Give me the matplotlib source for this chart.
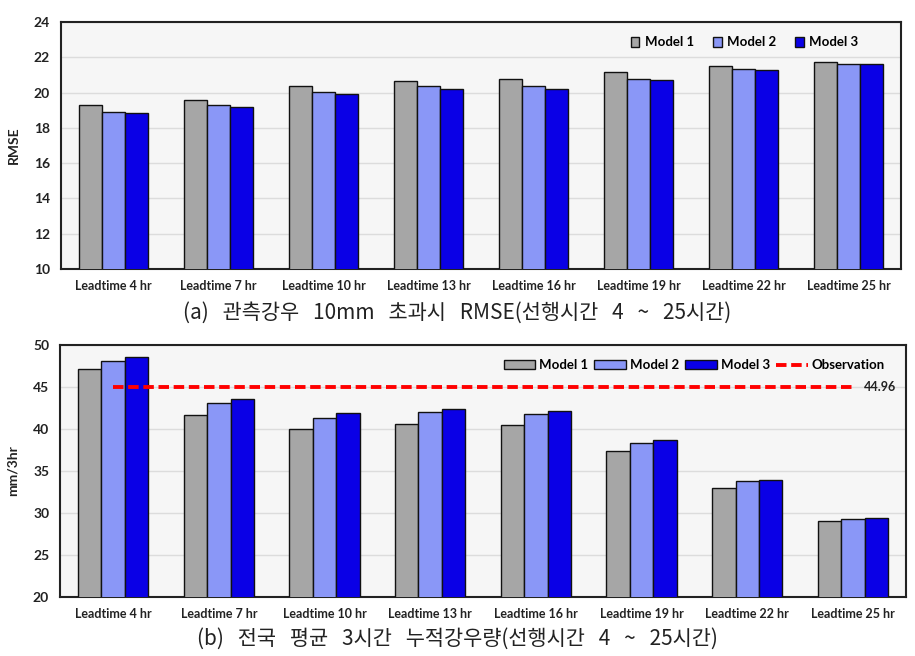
import matplotlib
matplotlib.use("Agg")
import matplotlib.pyplot as plt
import numpy as np

# lead time categories (shared by both panels)
leadtimes = ["Leadtime 4 hr", "Leadtime 7 hr", "Leadtime 10 hr", "Leadtime 13 hr",
             "Leadtime 16 hr", "Leadtime 19 hr", "Leadtime 22 hr", "Leadtime 25 hr"]
model_names = ["Model 1", "Model 2", "Model 3"]

# (a) RMSE for rainfall > 10 mm
rmse_model1 = [19.28, 19.60, 20.36, 20.68, 20.75, 21.15, 21.49, 21.75]
rmse_model2 = [18.92, 19.32, 20.02, 20.36, 20.38, 20.78, 21.36, 21.62]
rmse_model3 = [18.84, 19.20, 19.92, 20.20, 20.22, 20.70, 21.30, 21.62]

# (b) nationwide mean 3-hour accumulated rainfall
rain_model1 = [47.07, 41.63, 40.00, 40.60, 40.44, 37.38, 32.98, 29.00]
rain_model2 = [48.06, 43.06, 41.27, 41.95, 41.71, 38.33, 33.73, 29.29]
rain_model3 = [48.50, 43.50, 41.83, 42.38, 42.06, 38.65, 33.86, 29.40]
observation = 44.96

caption_a = "(a)   관측강우   10mm   초과시   RMSE(선행시간   4   ~   25시간)"
caption_b = "(b)   전국   평균   3시간   누적강우량(선행시간   4   ~   25시간)"

colors = ["#a6a6a6", "#8a97f7", "#0a00e6"]
tick_font = ["Lato", "DejaVu Sans"]
cjk_font = ["Noto Sans CJK KR", "DejaVu Sans"]


def draw_bars(ax, series, ylim, yticks, ylabel):
    x = np.arange(len(leadtimes))
    w = 0.222
    bars = []
    for i, vals in enumerate(series):
        b = ax.bar(x + (i - 1) * w, vals, width=w, color=colors[i],
                   edgecolor="#111111", linewidth=1.0, label=model_names[i], zorder=3)
        bars.append(b)
    ax.set_xlim(-0.5, len(leadtimes) - 0.5)
    ax.set_ylim(*ylim)
    ax.set_yticks(yticks)
    ax.set_xticks(x)
    ax.set_xticklabels(leadtimes, family=tick_font, fontweight="bold",
                       fontsize=9, color="#222222")
    for lab in ax.get_yticklabels():
        lab.set_family(tick_font)
        lab.set_fontweight("bold")
        lab.set_fontsize(10)
        lab.set_color("#222222")
    ax.tick_params(length=0, pad=8)
    ax.set_ylabel(ylabel, family=tick_font, fontweight="bold", fontsize=10,
                  labelpad=10, color="#222222")
    ax.set_facecolor("#f6f6f6")
    ax.grid(axis="y", color="#dcdcdc", linewidth=1.0, zorder=0)
    for s in ax.spines.values():
        s.set_linewidth(1.5)
        s.set_color("#222222")
    return bars


fig = plt.figure(figsize=(9.15, 6.56), dpi=100)

ax1 = fig.add_axes([0.0667, 0.590, 0.918, 0.3765])
draw_bars(ax1, [rmse_model1, rmse_model2, rmse_model3], (10, 24),
          np.arange(10, 25, 2), "RMSE")
ax1.legend(loc="upper right", bbox_to_anchor=(0.963, 0.99), ncol=3, frameon=False,
           handlelength=0.65, handleheight=0.8, handletextpad=0.4, columnspacing=1.45,
           prop={"family": tick_font, "weight": "bold", "size": 9.5})

ax2 = fig.add_axes([0.0659, 0.0904, 0.924, 0.3841])
bars = draw_bars(ax2, [rain_model1, rain_model2, rain_model3], (20, 50),
                 np.arange(20, 51, 5), "mm/3hr")
obs_line, = ax2.plot([0, len(leadtimes) - 1], [observation, observation],
                     color="#ff0000", linewidth=2.8, dashes=(2.7, 1.2), zorder=4,
                     label="Observation")
ax2.text(len(leadtimes) - 1 + 0.1, observation, f"{observation:.2f}",
         va="center", ha="left", family=tick_font, fontweight="bold",
         fontsize=9, color="#222222")
ax2.legend(handles=list(bars) + [obs_line], loc="upper right",
           bbox_to_anchor=(0.989, 0.99), ncol=4, frameon=False,
           handlelength=2.4, handleheight=0.6, handletextpad=0.3, columnspacing=0.45,
           prop={"family": tick_font, "weight": "bold", "size": 9.5})

fig.text(0.5, 0.523, caption_a, ha="center", va="center", family=cjk_font,
         fontsize=15, color="#222222")
fig.text(0.5, 0.027, caption_b, ha="center", va="center", family=cjk_font,
         fontsize=15, color="#222222")

fig.savefig("out.png", dpi=100)
